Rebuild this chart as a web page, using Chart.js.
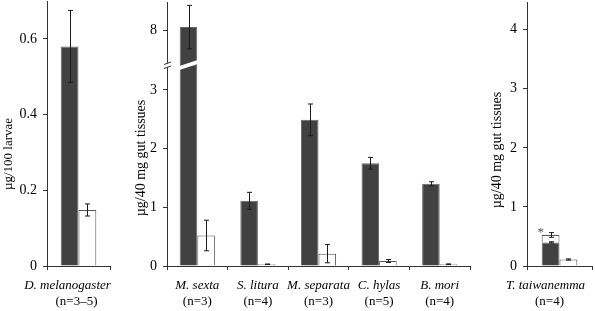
<!DOCTYPE html>
<html>
<head>
<meta charset="utf-8">
<script src="https://cdn.jsdelivr.net/npm/chart.js@4.4.1/dist/chart.umd.min.js"></script>
<style>
  html, body { margin: 0; padding: 0; background: #fff; }
  #wrap { position: relative; width: 595px; height: 311px; overflow: hidden; background: #fff; }
  #wrap canvas { position: absolute; top: 0; }
</style>
</head>
<body>
<div id="wrap">
  <canvas id="panelA" width="125" height="311" style="left:0px"></canvas>
  <canvas id="panelB" width="350" height="311" style="left:125px"></canvas>
  <canvas id="panelC" width="120" height="311" style="left:475px"></canvas>
</div>
<script>
// ---------------- DATA ----------------
// Panel A: Drosophila
const flyNames = ['D. melanogaster'];
const flyCounts = ['(n=3–5)'];
const flyDark = [0.58];
const flyDarkErr = [0.095];
const flyWhite = [0.148];
const flyWhiteErr = [0.016];
const flyTicks = [0, 0.2, 0.4, 0.6];

// Panel B: Lepidoptera (broken axis)
const lepNames = ['M. sexta', 'S. litura', 'M. separata', 'C. hylas', 'B. mori'];
const lepCounts = ['(n=3)', '(n=4)', '(n=3)', '(n=5)', '(n=4)'];
const lepDark = [8.05, 1.11, 2.49, 1.75, 1.40];
const lepDarkErr = [0.37, 0.145, 0.27, 0.10, 0.035];
const lepWhite = [0.52, 0.03, 0.21, 0.085, 0.03];
const lepWhiteErr = [0.26, 0.004, 0.155, 0.025, 0.006];
const lepTicksLow = [0, 1, 2, 3];
const lepTicksHigh = [8];

// Panel C: T. taiwanemma
const taiNames = ['T. taiwanemma'];
const taiCounts = ['(n=4)'];
const taiDark = [0.40];
const taiDarkErr = [0.01];
const taiExtra = [0.125];      // stacked on top of the dark bar
const taiExtraErr = [0.04];
const taiWhite = [0.11];
const taiWhiteErr = [0.01];
const taiTicks = [0, 1, 2, 3, 4];

// axis ranges
const FLY_MAX = 0.7;
const LOW_MAX = 3.424, UP_MIN = 7.404, UP_MAX = 8.477;
const TAI_MAX = 4.47;

// ---------------- STYLE ----------------
const FONT = "'Liberation Serif', 'Times New Roman', serif";
const AXIS = '#333333';
const DARK = '#414141';
const DARK_EDGE = '#666666';
const WHITE_EDGE = '#555555';

// ---------------- PLUGINS ----------------
const yTitlePlugin = {
  id: 'yTitle',
  afterDraw(chart, args, opts) {
    const ctx = chart.ctx;
    ctx.save();
    ctx.translate(opts.x, opts.y);
    ctx.rotate(-Math.PI / 2);
    ctx.font = opts.size + 'px ' + FONT;
    ctx.fillStyle = '#000';
    ctx.textAlign = 'center';
    ctx.textBaseline = 'middle';
    ctx.fillText(opts.text, 0, 0);
    ctx.restore();
  }
};

const errorBarPlugin = {
  id: 'errorBars',
  afterDatasetsDraw(chart) {
    const ctx = chart.ctx;
    ctx.save();
    ctx.strokeStyle = '#1a1a1a';
    ctx.lineWidth = 1;
    chart.data.datasets.forEach((ds, di) => {
      if (!ds.errors) return;
      const meta = chart.getDatasetMeta(di);
      const scale = chart.scales[meta.yAxisID];
      const unit = Math.abs(scale.getPixelForValue(1) - scale.getPixelForValue(0));
      meta.data.forEach((el, i) => {
        const e = ds.errors[i];
        if (e == null || ds.data[i] == null) return;
        const x = Math.round(el.x) + 0.5;
        const yTop = el.y - e * unit, yBot = el.y + e * unit;
        const cap = 2.5;
        ctx.beginPath();
        ctx.moveTo(x, yTop); ctx.lineTo(x, yBot);
        ctx.moveTo(x - cap, yTop); ctx.lineTo(x + cap, yTop);
        ctx.moveTo(x - cap, yBot); ctx.lineTo(x + cap, yBot);
        ctx.stroke();
      });
    });
    ctx.restore();
  }
};

const breakPlugin = {
  id: 'axisBreak',
  afterDatasetsDraw(chart) {
    const ctx = chart.ctx;
    const yb = chart.scales.y.top;
    const ax = chart.chartArea.left;
    const meta = chart.getDatasetMeta(0);
    ctx.save();
    ctx.fillStyle = '#fff';
    meta.data.forEach((el, i) => {
      if (!(lepDark[i] > LOW_MAX)) return;
      const half = el.width / 2 + 4;
      const l = el.x - half, r = el.x + half;
      const dy = half * 0.33, t = 2;
      ctx.beginPath();
      ctx.moveTo(l, yb + dy - t);
      ctx.lineTo(r, yb - dy - t);
      ctx.lineTo(r, yb - dy + t);
      ctx.lineTo(l, yb + dy + t);
      ctx.closePath();
      ctx.fill();
    });
    // gap in the axis line
    ctx.beginPath();
    ctx.moveTo(ax - 3, yb - 0.5);
    ctx.lineTo(ax + 4, yb - 3);
    ctx.lineTo(ax + 4, yb + 1);
    ctx.lineTo(ax - 3, yb + 3.5);
    ctx.closePath();
    ctx.fill();
    ctx.strokeStyle = AXIS;
    ctx.lineWidth = 1;
    ctx.beginPath();
    ctx.moveTo(ax - 3, yb - 0.5); ctx.lineTo(ax + 4, yb - 3);
    ctx.moveTo(ax - 3, yb + 3.5); ctx.lineTo(ax + 4, yb + 1);
    ctx.stroke();
    ctx.restore();
  }
};

const starPlugin = {
  id: 'star',
  afterDatasetsDraw(chart) {
    const ctx = chart.ctx;
    const el = chart.getDatasetMeta(1).data[0];
    ctx.save();
    ctx.font = '13px ' + FONT;
    ctx.fillStyle = '#555';
    ctx.textAlign = 'center';
    ctx.textBaseline = 'alphabetic';
    ctx.fillText('*', el.x - el.width / 2 - 1, el.y + 1);
    ctx.restore();
  }
};

// ---------------- HELPERS ----------------
function yAxis(min, max, ticks, width, extra) {
  return Object.assign({
    type: 'linear', position: 'left', min: min, max: max,
    afterBuildTicks: s => { s.ticks = ticks.map(v => ({ value: v })); },
    afterFit: s => { s.width = width; s.paddingTop = 0; s.paddingBottom = 0; },
    grid: { drawOnChartArea: false, tickLength: 4, color: AXIS, lineWidth: 1 },
    border: { color: AXIS, width: 1 },
    ticks: { font: { family: FONT, size: 14 }, color: '#000', padding: 6, callback: v => String(v) }
  }, extra || {});
}

function xAxes(names, counts, nameOffset, countOffset) {
  return {
    x: {
      type: 'category', labels: names, position: 'bottom', offset: true,
      grid: { drawOnChartArea: false, offset: true, tickLength: 4, color: AXIS, lineWidth: 1 },
      border: { color: AXIS, width: 1 },
      ticks: { font: { family: FONT, size: 13, style: 'italic' }, color: '#000', padding: 8,
               maxRotation: 0, autoSkip: false, labelOffset: nameOffset || 0 },
      afterFit: s => { s.height = 26; s.paddingLeft = 0; s.paddingRight = 0; }
    },
    x2: {
      type: 'category', labels: counts, position: 'bottom', offset: true,
      grid: { display: false, drawTicks: false },
      border: { display: false },
      ticks: { font: { family: FONT, size: 13 }, color: '#000', padding: 2,
               maxRotation: 0, autoSkip: false, labelOffset: countOffset || 0 },
      afterFit: s => { s.height = 19; s.paddingLeft = 0; s.paddingRight = 0; }
    }
  };
}

function baseOptions(padRight, padTop, catPct) {
  return {
    responsive: false,
    animation: false,
    layout: { padding: { top: padTop, right: padRight, left: 0, bottom: 0 } },
    datasets: { bar: { categoryPercentage: catPct, barPercentage: 1.0, borderWidth: 1, borderSkipped: 'start' } },
    plugins: { legend: { display: false }, tooltip: { enabled: false } }
  };
}

function darkSet(data, extra) {
  return Object.assign({ data: data, backgroundColor: DARK, borderColor: DARK_EDGE }, extra);
}
function whiteSet(data, extra) {
  return Object.assign({ data: data, backgroundColor: '#ffffff', borderColor: WHITE_EDGE }, extra);
}

// ---------------- PANEL A ----------------
{
  const opts = baseOptions(15, 1, 0.565);
  opts.scales = Object.assign(xAxes(flyNames, flyCounts, -11, -2), {
    y: yAxis(0, FLY_MAX, flyTicks, 47)
  });
  opts.plugins.yTitle = { text: 'µg/100 larvae', x: 9, y: 154, size: 13 };
  new Chart(document.getElementById('panelA'), {
    type: 'bar',
    data: {
      labels: flyNames,
      datasets: [
        darkSet(flyDark, { errors: flyDarkErr }),
        whiteSet(flyWhite, { errors: flyWhiteErr })
      ]
    },
    options: opts,
    plugins: [yTitlePlugin, errorBarPlugin]
  });
}

// ---------------- PANEL B ----------------
{
  const opts = baseOptions(5, 2, 0.58);
  opts.scales = Object.assign(xAxes(lepNames, lepCounts, 0, 0), {
    y: yAxis(0, LOW_MAX, lepTicksLow, 42, { stack: 'lep', stackWeight: 201, stacked: false }),
    y2: yAxis(UP_MIN, UP_MAX, lepTicksHigh, 42, { stack: 'lep', stackWeight: 63, stacked: false })
  });
  opts.plugins.yTitle = { text: 'µg/40 mg gut tissues', x: 16, y: 158, size: 14 };
  const darkLow = lepDark.map(v => Math.min(v, LOW_MAX));
  const darkLowErr = lepDark.map((v, i) => v <= LOW_MAX ? lepDarkErr[i] : null);
  const darkHigh = lepDark.map(v => v > UP_MIN ? [UP_MIN, v] : null);
  const darkHighErr = lepDark.map((v, i) => v > UP_MIN ? lepDarkErr[i] : null);
  new Chart(document.getElementById('panelB'), {
    type: 'bar',
    data: {
      labels: lepNames,
      datasets: [
        darkSet(darkLow, { errors: darkLowErr, yAxisID: 'y', xAxisID: 'x', stack: 'dark' }),
        darkSet(darkHigh, { errors: darkHighErr, yAxisID: 'y2', xAxisID: 'x', stack: 'dark' }),
        whiteSet(lepWhite, { errors: lepWhiteErr, yAxisID: 'y', xAxisID: 'x', stack: 'white' })
      ]
    },
    options: opts,
    plugins: [yTitlePlugin, errorBarPlugin, breakPlugin]
  });
}

// ---------------- PANEL C ----------------
{
  const opts = baseOptions(3, 2, 0.548);
  opts.scales = Object.assign(xAxes(taiNames, taiCounts, -14, -10), {
    y: yAxis(0, TAI_MAX, taiTicks, 52)
  });
  opts.plugins.yTitle = { text: 'µg/40 mg gut tissues', x: 22, y: 150, size: 14 };
  new Chart(document.getElementById('panelC'), {
    type: 'bar',
    data: {
      labels: taiNames,
      datasets: [
        darkSet(taiDark, { errors: taiDarkErr, stack: 'p' }),
        whiteSet(taiExtra, { errors: taiExtraErr, stack: 'p' }),
        whiteSet(taiWhite, { errors: taiWhiteErr, stack: 'q' })
      ]
    },
    options: opts,
    plugins: [yTitlePlugin, errorBarPlugin, starPlugin]
  });
}
</script>
</body>
</html>
